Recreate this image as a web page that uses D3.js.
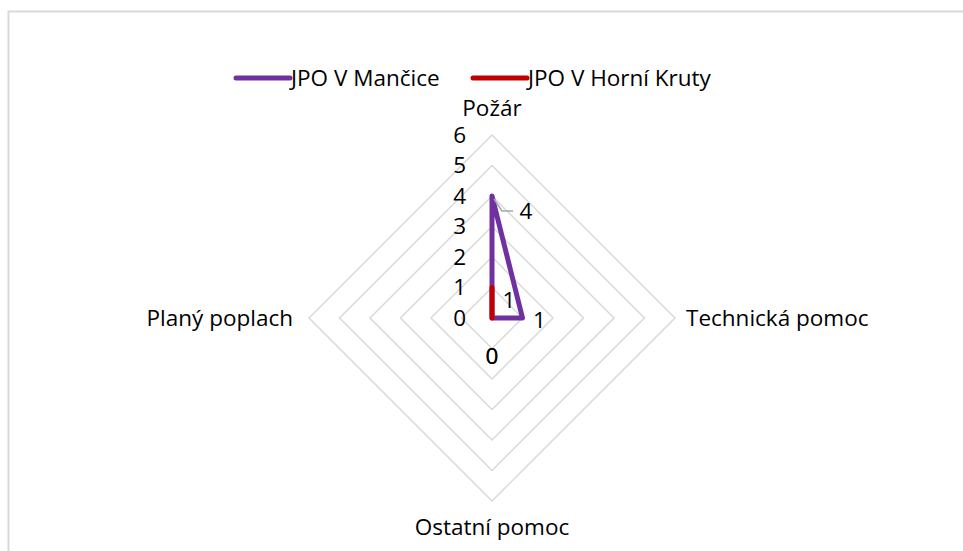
<!DOCTYPE html>
<html><head><meta charset="utf-8">
<script src="https://cdn.jsdelivr.net/npm/d3@7"></script>
<style>body{margin:0;background:#fff}svg{display:block}text{font-family:"Open Sans",sans-serif;fill:#000}</style>
</head><body><svg id="c" width="963" height="551"></svg>
<script>
const categories = ["Požár", "Technická pomoc", "Ostatní pomoc", "Planý poplach"];
const seriesNames = ["JPO V Mančice", "JPO V Horní Kruty"];
const mancice = [4, 1, 0, 0];
const horniKruty = [1, 0, 0, 0];
const tickValues = [0, 1, 2, 3, 4, 5, 6];
const colors = ["#7030a0", "#c00000"];
const FS = 22.5;

const svg = d3.select("#c");
const cx = 492, cy = 318;
const r = d3.scaleLinear().domain([0, 6]).range([0, 183]);
const ang = d3.scaleBand().domain(categories).range([0, 2 * Math.PI]).paddingInner(0).paddingOuter(0);
const angle = c => ang(c) - Math.PI / 2;
const pt = (c, v) => [cx + r(v) * Math.cos(angle(c)), cy + r(v) * Math.sin(angle(c))];

// border
svg.append("path").attr("d", "M8.5,551 L8.5,11.5 L963,11.5").attr("fill", "none").attr("stroke", "#d9d9d9").attr("stroke-width", 2);

// grid rings
tickValues.slice(1).forEach(t => {
  svg.append("polygon").attr("points", categories.map(c => pt(c, t).join(",")).join(" "))
    .attr("fill", "none").attr("stroke", "#d9d9d9").attr("stroke-width", 1.5);
});

// tick labels
svg.selectAll(".tick").data(tickValues).join("text")
  .attr("x", 466).attr("y", d => cy - r(d)).attr("dy", "0.35em")
  .attr("text-anchor", "end").attr("font-size", FS).text(d => d);

// category labels
const catPos = [
  {x: cx, y: 108, a: "middle"},
  {x: 686, y: cy, a: "start"},
  {x: cx, y: 527, a: "middle"},
  {x: 293, y: cy, a: "end"}
];
categories.forEach((c, i) => {
  svg.append("text").attr("x", catPos[i].x).attr("y", catPos[i].y).attr("dy", "0.35em")
    .attr("text-anchor", catPos[i].a).attr("font-size", FS).text(c);
});

// series
const line = d3.line().curve(d3.curveLinearClosed);
[mancice, horniKruty].forEach((vals, si) => {
  svg.append("path").attr("d", line(categories.map((c, i) => pt(c, vals[i]))))
    .attr("fill", "none").attr("stroke", colors[si]).attr("stroke-width", 5)
    .attr("stroke-linejoin", "round").attr("stroke-linecap", "round");
});

// data labels
const p4 = pt(categories[0], mancice[0]);
svg.append("path").attr("d", `M${p4[0] + 2},${p4[1] + 3} L${p4[0] + 10},${p4[1] + 15} L${p4[0] + 21},${p4[1] + 15}`)
  .attr("fill", "none").attr("stroke", "#a6a6a6").attr("stroke-width", 1.5);
const lbl = (x, y, t) => svg.append("text").attr("x", x).attr("y", y).attr("dy", "0.35em")
  .attr("text-anchor", "middle").attr("font-size", FS).text(t);
lbl(p4[0] + 34, p4[1] + 15, mancice[0]);
const pT = pt(categories[1], mancice[1]);
lbl(pT[0] + 17, pT[1] + 2, mancice[1]);
const pR = pt(categories[0], horniKruty[0]);
lbl(pR[0] + 17, pR[1] + 13, horniKruty[0]);
const pO = pt(categories[2], mancice[2]);
lbl(pO[0], pO[1] + 38, mancice[2]);
lbl(pO[0], pO[1] + 38, horniKruty[2]);

// legend
const leg = [{x: 236, t: seriesNames[0]}, {x: 473, t: seriesNames[1]}];
leg.forEach((l, i) => {
  svg.append("line").attr("x1", l.x).attr("x2", l.x + 54).attr("y1", 78).attr("y2", 78)
    .attr("stroke", colors[i]).attr("stroke-width", 5).attr("stroke-linecap", "round");
  svg.append("text").attr("x", l.x + 55).attr("y", 78).attr("dy", "0.35em").attr("font-size", FS).text(l.t);
});
</script></body></html>
